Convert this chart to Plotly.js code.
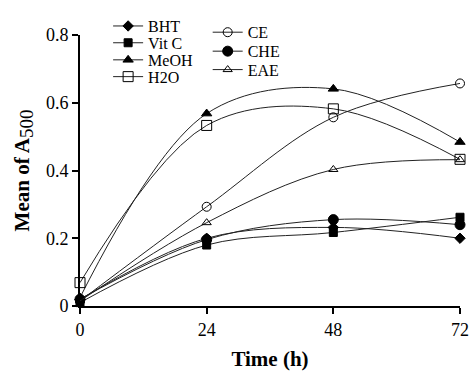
<!DOCTYPE html>
<html>
<head>
<meta charset="utf-8">
<script src="https://cdn.plot.ly/plotly-3.0.1.min.js"></script>
<style>html,body{margin:0;padding:0;background:#fff;}#chart{width:469px;height:371px;}</style>
</head>
<body>
<div id="chart"></div>
<script>
var time = [0, 24, 48, 72];
var xTicks = [0, 24, 48, 72];
var yTicks = [0, 0.2, 0.4, 0.6, 0.8];
var yTickText = ['0', '0.2', '0.4', '0.6', '0.8'];

var BHT  = [0.020, 0.200, 0.232, 0.200];
var VitC = [0.010, 0.180, 0.217, 0.262];
var MeOH = [0.025, 0.568, 0.641, 0.484];
var H2O  = [0.069, 0.533, 0.582, 0.433];
var CE   = [0.015, 0.293, 0.557, 0.657];
var CHE  = [0.020, 0.196, 0.255, 0.240];
var EAE  = [0.015, 0.246, 0.403, 0.432];

var names = ['BHT', 'Vit C', 'MeOH', 'H2O', 'CE', 'CHE', 'EAE'];
var series = [BHT, VitC, MeOH, H2O, CE, CHE, EAE];
var symbols = ['diamond', 'square', 'triangle-up', 'square-open', 'circle-open', 'circle', 'triangle-up-open'];
var sizes = [8, 8, 9, 10, 9, 10, 8];

var legendIds = ['legend', 'legend2', 'legend3', 'legend4', 'legend5', 'legend6', 'legend7'];
/* legend entry placement (paper coords): column x and row centre y */
var legX = [0.074, 0.074, 0.074, 0.074, 0.336, 0.336, 0.336];
var legY = [1.033, 0.971, 0.908, 0.846, 1.010, 0.940, 0.872];

var traces = series.map(function (ys, i) {
  return {
    x: time, y: ys, name: names[i], type: 'scatter', mode: 'lines+markers',
    legend: legendIds[i],
    line: {color: '#222', width: 1, shape: 'spline', smoothing: 1},
    marker: {symbol: symbols[i], size: sizes[i], color: '#000', line: {color: '#000', width: 1}},
    cliponaxis: false
  };
});

var font = 'Liberation Serif, Times New Roman, serif';
var layout = {
  width: 469, height: 371,
  margin: {l: 80, r: 9, t: 26, b: 65},
  paper_bgcolor: '#fff', plot_bgcolor: '#fff',
  font: {family: font, color: '#000', size: 18},
  showlegend: true,
  xaxis: {
    range: [0, 72], tickvals: xTicks, ticktext: xTicks.map(String),
    showline: true, linecolor: '#000', linewidth: 2, ticks: 'outside', ticklen: 6, tickwidth: 2,
    tickcolor: '#000', showgrid: false, zeroline: false, mirror: false,
    tickfont: {family: font, size: 18, color: '#000'},
    title: {text: '<b>Time (h)</b>', font: {family: font, size: 21, color: '#000'}, standoff: 23}
  },
  yaxis: {
    range: [0, 0.8], tickvals: yTicks, ticktext: yTickText,
    showline: true, linecolor: '#000', linewidth: 2, ticks: 'outside', ticklen: 6, tickwidth: 2,
    tickcolor: '#000', showgrid: false, zeroline: false,
    tickfont: {family: font, size: 18, color: '#000'},
    title: {text: '<b>Mean of A</b><sub><span style="font-size:19px">500</span></sub>',
            font: {family: font, size: 21, color: '#000'}, standoff: 11}
  }
};
legendIds.forEach(function (id, i) {
  layout[id] = {x: legX[i], y: legY[i], xanchor: 'left', yanchor: 'middle',
    bgcolor: 'rgba(0,0,0,0)', borderwidth: 0,
    font: {family: font, size: 16, color: '#000'}};
});

Plotly.newPlot('chart', traces, layout, {displayModeBar: false, staticPlot: true});
</script>
</body>
</html>
